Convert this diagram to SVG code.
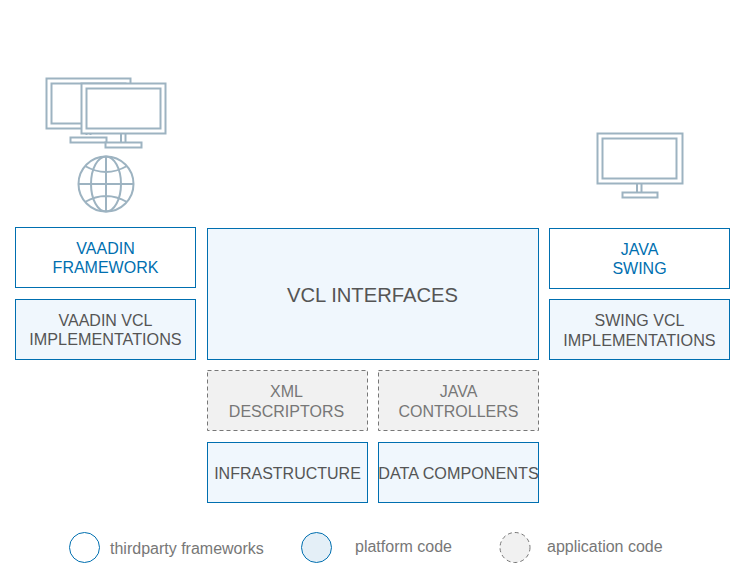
<svg xmlns="http://www.w3.org/2000/svg" width="745" height="578" viewBox="0 0 745 578">
<style>
text{font-family:"Liberation Sans",Arial,sans-serif;font-size:16px;text-anchor:middle}
.w{fill:#fff;stroke:#006fb0;stroke-width:1}
.b{fill:#f0f7fd;stroke:#006fb0;stroke-width:1}
.g{fill:#f1f1f1;stroke:#777;stroke-width:1;stroke-dasharray:4 3}
.tb{fill:#006fb0}.td{fill:#555}.tg{fill:#777}
.wide{font-size:16.200px}
.leg{fill:#777;text-anchor:start}
.ic{fill:none;stroke:#9db3c1;stroke-width:2}
.if{fill:#fff;stroke:#9db3c1;stroke-width:2}
</style>
<rect width="745" height="578" fill="#fff"/>
<g id="icon-desktops">
<rect class="if" x="46.500" y="78.500" width="84" height="50"/>
<rect class="ic" x="51.500" y="83.500" width="74" height="40"/>
<path class="ic" d="M86.500 129v6M90.500 129v6"/>
<rect class="if" x="70.500" y="137.500" width="36" height="5"/>
<rect class="if" x="81.500" y="83.500" width="84" height="50"/>
<rect class="ic" x="86.500" y="88.500" width="74" height="40"/>
<path class="ic" d="M121 134v8M125.500 134v8"/>
<rect class="if" x="105.500" y="142.500" width="36" height="5"/>
</g>
<g id="icon-globe">
<circle class="ic" cx="106" cy="184" r="27.500"/>
<ellipse class="ic" cx="106" cy="184" rx="15" ry="27.500"/>
<path class="ic" d="M106 156.500v55M78.500 184h55M85 166q21 12 42 0M85 202q21-12 42 0"/>
</g>
<g id="icon-desktop">
<rect class="if" x="597.500" y="133.500" width="85" height="50"/>
<rect class="ic" x="602.500" y="138.500" width="74" height="40"/>
<path class="ic" d="M637 184v8M641.500 184v8"/>
<rect class="if" x="622.500" y="192.500" width="35" height="5"/>
</g>
<g id="vaadin-framework">
<rect class="w" x="15.500" y="227.500" width="180" height="60"/>
<text class="tb" x="105.500" y="253.500">VAADIN</text>
<text class="tb" x="105.500" y="272.500">FRAMEWORK</text>
</g>
<g id="vaadin-vcl">
<rect class="b" x="15.500" y="299.500" width="180" height="60"/>
<text class="td" x="105.500" y="325.500">VAADIN VCL</text>
<text class="td wide" x="105.500" y="344.500">IMPLEMENTATIONS</text>
</g>
<g id="vcl-interfaces">
<rect class="b" x="207.500" y="228.500" width="331" height="131"/>
<text class="td" x="372.500" y="302" style="font-size:20.200px">VCL INTERFACES</text>
</g>
<g id="java-swing">
<rect class="w" x="549.500" y="228.500" width="180" height="60"/>
<text class="tb" x="639.500" y="254.500">JAVA</text>
<text class="tb" x="639.500" y="273.500">SWING</text>
</g>
<g id="swing-vcl">
<rect class="b" x="549.500" y="299.500" width="180" height="60"/>
<text class="td" x="639.500" y="325.500">SWING VCL</text>
<text class="td wide" x="639.500" y="345.500">IMPLEMENTATIONS</text>
</g>
<g id="xml-descriptors">
<rect class="g" x="207.500" y="370.500" width="160" height="60"/>
<text class="tg" x="286.500" y="396.500">XML</text>
<text class="tg" x="286.500" y="416.500">DESCRIPTORS</text>
</g>
<g id="java-controllers">
<rect class="g" x="378.500" y="370.500" width="160" height="60"/>
<text class="tg" x="458.500" y="396.500">JAVA</text>
<text class="tg" x="458.500" y="416.500">CONTROLLERS</text>
</g>
<g id="infrastructure">
<rect class="b" x="207.500" y="442.500" width="160" height="60"/>
<text class="td" x="287.500" y="478.500">INFRASTRUCTURE</text>
</g>
<g id="data-components">
<rect class="b" x="378.500" y="442.500" width="160" height="60"/>
<text class="td wide" x="458.500" y="478.500">DATA COMPONENTS</text>
</g>
<g id="legend-thirdparty">
<circle cx="84.500" cy="547.500" r="15" fill="#fff" stroke="#006fb0"/>
<text class="leg" x="110" y="554">thirdparty frameworks</text>
</g>
<g id="legend-platform">
<circle cx="316.500" cy="547.500" r="15" fill="#e4eff7" stroke="#006fb0"/>
<text class="leg" x="355" y="552">platform code</text>
</g>
<g id="legend-application">
<circle cx="515" cy="547.500" r="15" fill="#f1f1f1" stroke="#777" stroke-dasharray="4 3"/>
<text class="leg" x="547" y="552">application code</text>
</g>
<g id="connectors"/>
</svg>
